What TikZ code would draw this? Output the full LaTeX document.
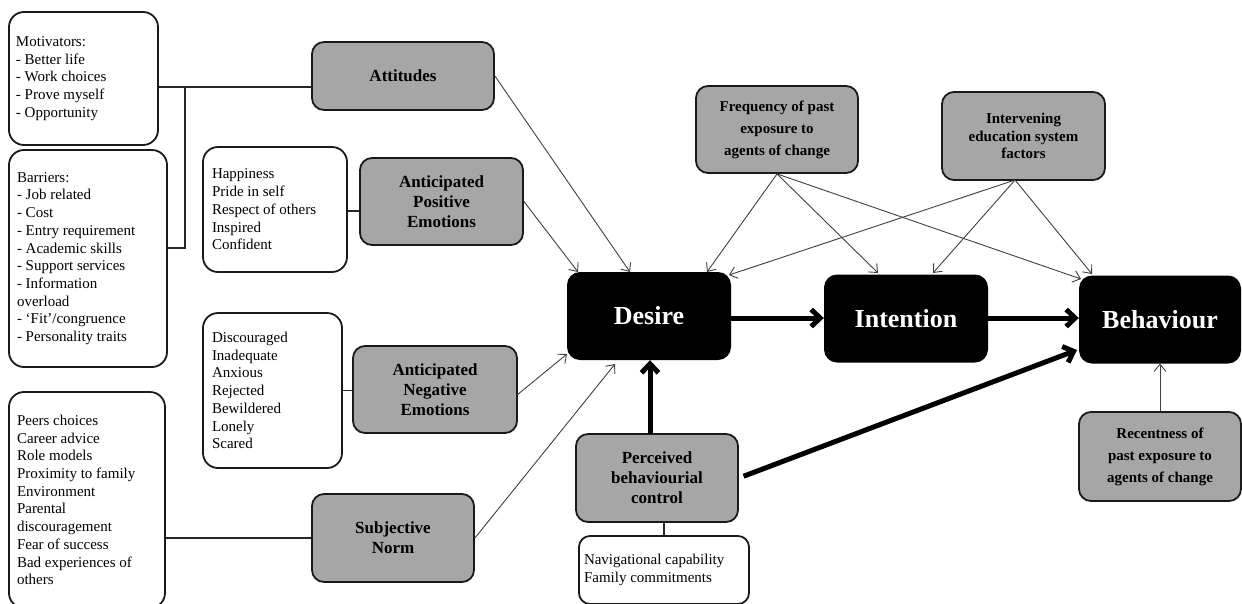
\documentclass[tikz,border=0pt]{standalone}
\usepackage{fontspec}
\setmainfont{Liberation Serif}
\usetikzlibrary{arrows.meta,calc}
\definecolor{gfill}{HTML}{A6A6A6}
\definecolor{edge}{HTML}{1A1A1A}
\tikzset{
  wbox/.style={draw=edge, line width=1.8pt, rounded corners=15pt, fill=white, inner sep=0pt,
    font=\fontsize{15}{17.7}\selectfont, align=flush left},
  gbox/.style={draw=edge, line width=1.8pt, rounded corners=12pt, fill=gfill, inner sep=0pt,
    font=\bfseries\fontsize{17}{20}\selectfont, align=center},
  gsmall/.style={gbox, font=\bfseries\fontsize{15}{22}\selectfont},
  kbox/.style={fill=black, rounded corners=13pt, text=white, inner sep=0pt,
    font=\bfseries\fontsize{26}{30}\selectfont, minimum width=164pt, minimum height=88pt},
  link/.style={draw=black!85, line width=1.1pt},
  arr/.style={draw=black!75, line width=0.9pt, -{Straight Barb[length=7pt,width=12pt]}},
  bigarr/.style={draw=black, line width=5pt, -{Straight Barb[length=9pt,width=17pt]}},
}
\begin{document}
\begin{tikzpicture}[x=1pt,y=-1pt]
\fill[white] (0,0) rectangle (1242,603);
\useasboundingbox (0,0) rectangle (1242,603);

% left column
\node[wbox, minimum width=149pt, minimum height=133pt, text width=135pt] (mot) at (83.5,78.5)
  {Motivators:\\- Better life\\- Work choices\\- Prove myself\\- Opportunity};
\node[wbox, minimum width=158pt, minimum height=217pt, text width=142pt] (bar) at (88,258.5)
  {Barriers:\\- Job related\\- Cost\\- Entry requirement\\- Academic skills\\- Support services\\- Information\\overload\\- `Fit'/congruence\\- Personality traits};
\node[wbox, minimum width=156pt, minimum height=216pt, text width=140pt] (peers) at (87,500)
  {Peers choices\\Career advice\\Role models\\Proximity to family\\Environment\\Parental\\discouragement\\Fear of success\\Bad experiences of\\others};

% emotion lists
\node[wbox, minimum width=144pt, minimum height=125pt, text width=126pt] (hap) at (275,209.5)
  {Happiness\\Pride in self\\Respect of others\\Inspired\\Confident};
\node[wbox, minimum width=139pt, minimum height=155pt, text width=121pt] (dis) at (272.5,390.5)
  {Discouraged\\Inadequate\\Anxious\\Rejected\\Bewildered\\Lonely\\Scared};

% grey factor boxes
\node[gbox, minimum width=182pt, minimum height=68pt] (att) at (403,76) {Attitudes};
\node[gbox, minimum width=163pt, minimum height=87pt] (ape) at (441.5,201.5) {Anticipated\\Positive\\Emotions};
\node[gbox, minimum width=164pt, minimum height=87pt] (ane) at (435,389.5) {Anticipated\\Negative\\Emotions};
\node[gbox, minimum width=162pt, minimum height=88pt] (sn) at (393,538) {Subjective\\Norm};
\node[gbox, minimum width=162pt, minimum height=88pt] (pbc) at (657,478) {Perceived\\behaviourial\\control};
\node[gsmall, minimum width=162pt, minimum height=87pt] (freq) at (777,129.5) {Frequency of past\\exposure to\\agents of change};
\node[gsmall, minimum width=163pt, minimum height=88pt, font=\bfseries\fontsize{15}{17.5}\selectfont] (inter) at (1023.5,136) {Intervening\\education system\\factors};
\node[gsmall, minimum width=162pt, minimum height=89pt] (rec) at (1160,456.5) {Recentness of\\past exposure to\\agents of change};

\node[wbox, rounded corners=11pt, minimum width=170pt, minimum height=68pt, text width=160pt] (nav) at (664,570)
  {Navigational capability\\Family commitments};

% core boxes
\node[kbox] (des) at (649,316) {Desire};
\node[kbox] (int) at (906,318.5) {Intention};
\node[kbox, minimum width=162pt] (beh) at (1160,319.5) {Behaviour};

% plain links
\coordinate (j1) at (185,87);
\coordinate (j2) at (185,248);
\draw[link] (mot.east |- j1) -- (att.west |- j1);
\draw[link] (j1) -- (j2) -- (bar.east |- j2);
\coordinate (hy) at (0,211);
\draw[link] (hap.east |- hy) -- (ape.west |- hy);
\draw[link] (dis.east) -- (dis.east -| ane.west);
\draw[link] (sn.west) -- (sn.west -| peers.east);
\draw[link] (nav.north) -- (nav.north |- pbc.south);

% target points
\coordinate (dT1) at (578,272);
\coordinate (dT2) at (630,272);
\coordinate (dT3) at (707,272);
\coordinate (dT4) at (729,275);
\coordinate (dL) at (567,354);
\coordinate (dB) at (615,364);
\coordinate (iT1) at (878,273);
\coordinate (iT2) at (933,273);
\coordinate (bT1) at (1081,279);
\coordinate (bT2) at (1092,274);
\coordinate (bL) at (1077,350);
\coordinate (aneS) at (517,395);
\coordinate (iS) at (1015,180);
\coordinate (ry) at (0,318);
\coordinate (pU) at (650,434);

% thin arrows
\draw[arr] (att.east) -- (dT2);
\draw[arr] (ape.east) -- (dT1);
\draw[arr] (aneS) -- (dL);
\draw[arr] (sn.east) -- (dB);
\draw[arr] (freq.south) -- (dT3);
\draw[arr] (freq.south) -- (iT1);
\draw[arr] (freq.south) -- (bT1);
\draw[arr] (iS) -- (dT4);
\draw[arr] (iS) -- (iT2);
\draw[arr] (iS) -- (bT2);
\draw[arr] (rec.north) -- (rec.north |- beh.south);

% thick arrows
\draw[bigarr] (des.east |- ry) -- (int.west |- ry);
\draw[bigarr] (int.east |- ry) -- (beh.west |- ry);
\draw[bigarr] (pU) -- (pU |- des.south);
\draw[bigarr, shorten <=5pt] (pbc.east) -- (bL);
\end{tikzpicture}
\end{document}
